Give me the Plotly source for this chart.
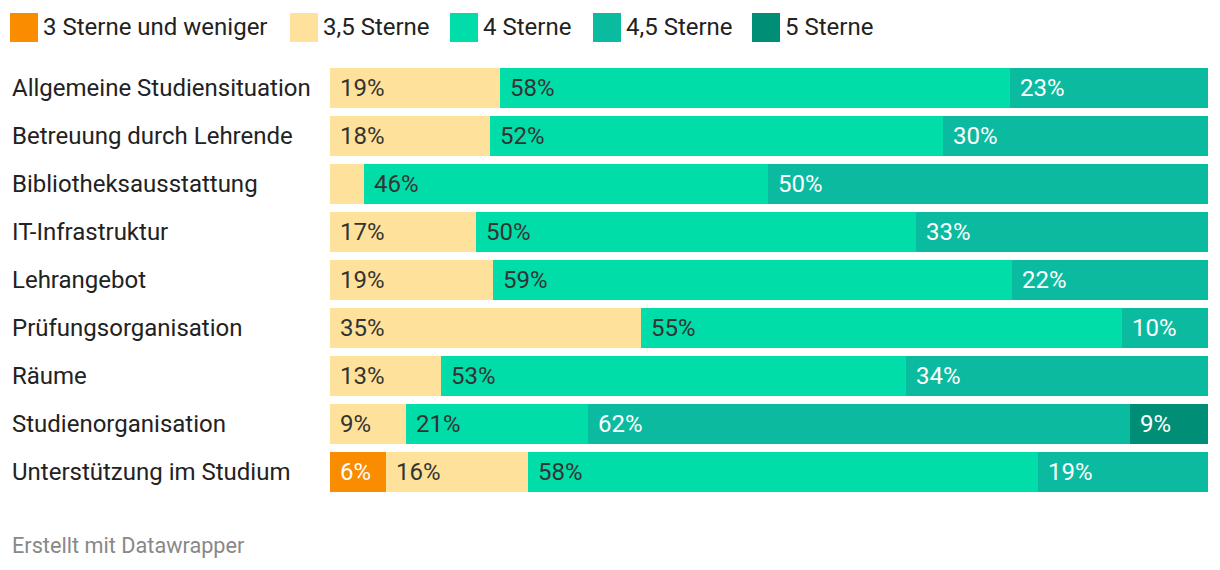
import plotly.graph_objects as go

categories = [
    "Allgemeine Studiensituation",
    "Betreuung durch Lehrende",
    "Bibliotheksausstattung",
    "IT-Infrastruktur",
    "Lehrangebot",
    "Prüfungsorganisation",
    "Räume",
    "Studienorganisation",
    "Unterstützung im Studium",
]
series_names = ["3 Sterne und weniger", "3,5 Sterne", "4 Sterne", "4,5 Sterne", "5 Sterne"]
s3 = [0, 0, 0, 0, 0, 0, 0, 0, 6.4]
s35 = [19.4, 18.2, 3.9, 16.6, 18.6, 35.4, 12.6, 8.7, 16.2]
s4 = [58.1, 51.6, 46.0, 50.1, 59.1, 54.8, 53.0, 20.7, 58.1]
s45 = [22.6, 30.2, 50.1, 33.3, 22.3, 9.8, 34.4, 61.7, 19.4]
s5 = [0, 0, 0, 0, 0, 0, 0, 8.9, 0]

series = [s3, s35, s4, s45, s5]
colors = ["#fa8c00", "#fee29b", "#00dda9", "#0abba0", "#008f76"]
text_colors = ["#ffffff", "#333333", "#333333", "#ffffff", "#ffffff"]

W, H = 1220, 570
L, R, T, B = 330, 12, 64, 74
PW = W - L - R
PH = H - T - B
FS = 24

fig = go.Figure()
for name, vals, col in zip(series_names, series, colors):
    fig.add_trace(go.Bar(
        y=categories, x=vals, name=name, orientation="h",
        marker=dict(color=col, line=dict(width=0)),
        showlegend=False, hoverinfo="skip",
    ))

annotations = []
# value labels
for i, cat in enumerate(categories):
    total = sum(s[i] for s in series)
    cum = 0.0
    for vals, tc in zip(series, text_colors):
        v = vals[i]
        if v >= 5:
            annotations.append(dict(
                x=cum / total * 100, y=cat, xref="x", yref="y",
                text=f"{v:.0f}%", showarrow=False, xanchor="left", xshift=8,
                font=dict(family="Roboto", size=FS, color=tc),
            ))
        cum += v

# row labels (left aligned)
for cat in categories:
    annotations.append(dict(
        x=(10 - L) / PW, y=cat, xref="paper", yref="y", text=cat,
        showarrow=False, xanchor="left",
        font=dict(family="Roboto", size=FS, color="#222222"),
    ))

# legend (manual)
shapes = []
leg_x = [10, 290, 450, 593, 752]
for lx, name, col in zip(leg_x, series_names, colors):
    x0 = (lx - L) / PW
    x1 = (lx + 28 - L) / PW
    y0 = (H - B - 42) / PH
    y1 = (H - B - 13) / PH
    shapes.append(dict(type="rect", xref="paper", yref="paper", x0=x0, x1=x1,
                       y0=y0, y1=y1, fillcolor=col, line=dict(width=0)))
    annotations.append(dict(
        x=(lx + 31 - L) / PW, y=(H - B - 27) / PH, xref="paper", yref="paper",
        text=name, showarrow=False, xanchor="left", yanchor="middle",
        font=dict(family="Roboto", size=FS, color="#222222"),
    ))

# footer
annotations.append(dict(
    x=(10 - L) / PW, y=-(545 - (H - B)) / PH, xref="paper", yref="paper",
    text="Erstellt mit Datawrapper", showarrow=False, xanchor="left", yanchor="middle",
    font=dict(family="Roboto", size=21.7, color="#888888"),
))

fig.update_layout(
    width=W, height=H,
    margin=dict(l=L, r=R, t=T, b=B, pad=0),
    barmode="stack", barnorm="percent", bargap=8 / 48,
    plot_bgcolor="white", paper_bgcolor="white",
    xaxis=dict(range=[0, 100], visible=False, fixedrange=True),
    yaxis=dict(autorange=False, range=[len(categories) - 0.5, -0.5], visible=False,
               categoryorder="array", categoryarray=categories),
    annotations=annotations, shapes=shapes,
    font=dict(family="Roboto"),
)

fig.write_html("out.html", config={"displayModeBar": False},
               post_script="document.body.style.margin='0';")
